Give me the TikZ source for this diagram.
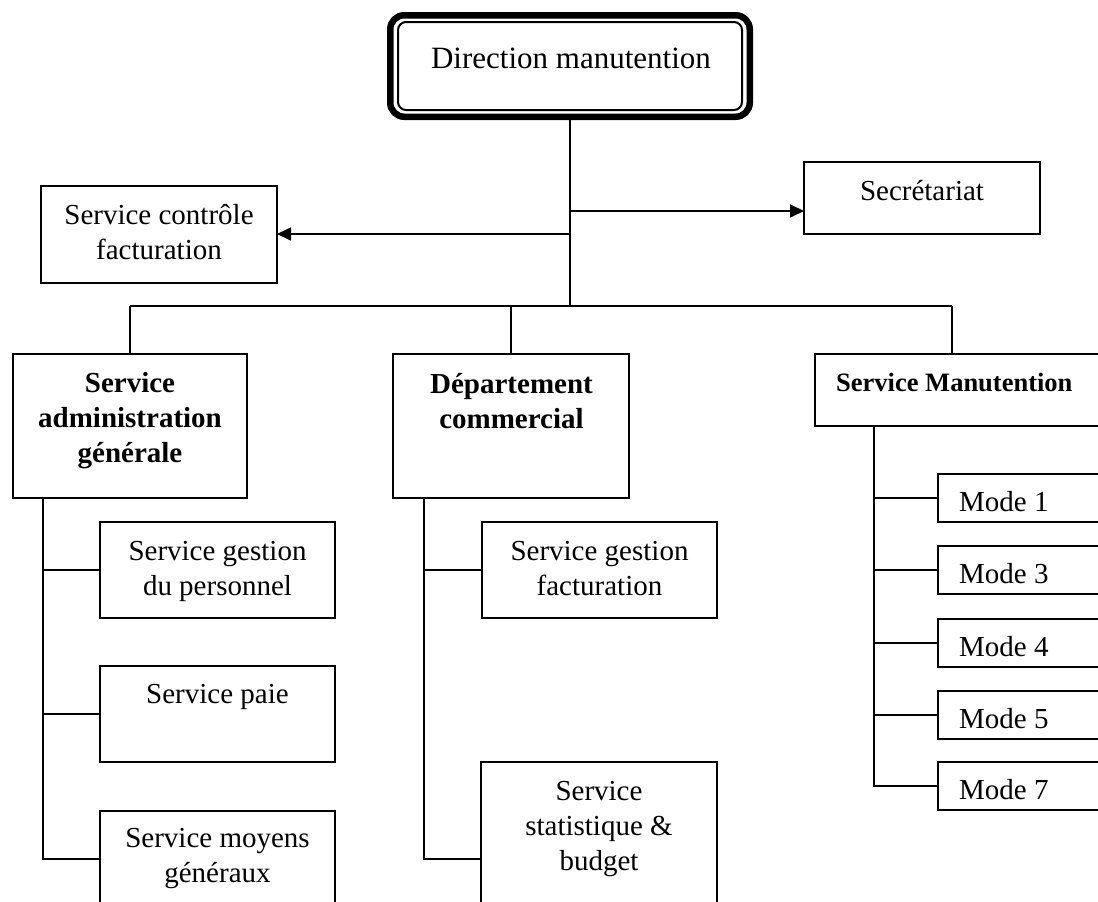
\documentclass[tikz,border=0pt]{standalone}
\usepackage{fontspec}
\setmainfont{Liberation Serif}
\usetikzlibrary{arrows.meta,calc}
\begin{document}
\begin{tikzpicture}[x=1pt,y=-1pt,
  box/.style={draw=black, line width=1.8pt, fill=white, rectangle, inner sep=0pt, outer sep=0pt, anchor=north west},
  txt/.style={font=\fontsize{29}{35}\selectfont, align=center, inner sep=0pt, anchor=base},
  btxt/.style={txt, font=\fontsize{29}{35}\selectfont\bfseries},
  link/.style={line width=1.8pt},
  arr/.style={link, -{Triangle[length=14pt,width=13pt]}},
]
\useasboundingbox (0,0) rectangle (1098,902);
\fill[white] (0,0) rectangle (1098,902);
\clip (0,0) rectangle (1098,902);

% top box (path 390.25..749.75 x 15.25..116.75)
\node[draw=black, line width=6.5pt, rounded corners=14pt, inner sep=0pt, outer sep=0pt,
      minimum width=359.5pt, minimum height=101.5pt, anchor=north west] (top) at (390.25,15.25) {};
\draw[line width=2pt, rounded corners=8pt] ($(top.north west)+(7.75,6.75)$) rectangle ($(top.south east)+(-7.75,-6.75)$);
\node[txt, font=\fontsize{31}{37}\selectfont] (ttop) at (571,68) {Direction manutention};

% boxes (base anchor = baseline of the last line)
\node[box, minimum width=236pt, minimum height=72pt] (sec) at (804,162) {};
\node[txt] (tsec) at (922,200) {Secrétariat};
\node[box, minimum width=236pt, minimum height=97pt] (scf) at (41,186) {};
\node[txt] (tscf) at (159,259) {Service contrôle\\facturation};

\node[box, minimum width=234pt, minimum height=144pt] (admin) at (13,354) {};
\node[btxt] (tadmin) at (130,462) {Service\\administration\\générale};
\node[box, minimum width=236pt, minimum height=144pt] (dept) at (393,354) {};
\node[btxt] (tdept) at (511.5,428) {Département\\commercial};
\node[box, minimum width=295pt, minimum height=72pt] (manut) at (815,354) {};
\node[btxt, font=\fontsize{26.5}{32}\selectfont\bfseries, anchor=base west] (tmanut) at (836,391) {Service Manutention};

\node[box, minimum width=235pt, minimum height=96pt] (gp) at (100,522) {};
\node[txt] (tgp) at (217.5,595) {Service gestion\\du personnel};
\node[box, minimum width=235pt, minimum height=96pt] (paie) at (100,666) {};
\node[txt] (tpaie) at (217.5,703) {Service paie};
\node[box, minimum width=235pt, minimum height=96pt] (moy) at (100,811) {};
\node[txt] (tmoy) at (217.5,882) {Service moyens\\généraux};

\node[box, minimum width=235pt, minimum height=96pt] (gf) at (482,522) {};
\node[txt] (tgf) at (599.5,595) {Service gestion\\facturation};
\node[box, minimum width=236pt, minimum height=194pt] (stat) at (481,762) {};
\node[txt] (tstat) at (599,870) {Service\\statistique \&\\budget};

\foreach \n/\y/\t in {m1/474/Mode 1, m3/546/Mode 3, m4/619/Mode 4, m5/691/Mode 5, m7/762/Mode 7}{
  \node[box, minimum width=172pt, minimum height=48pt] (\n) at (938,\y) {};
  \node[txt, anchor=base west] (t\n) at ($(\n.north west)+(21,37)$) {\t};
}

% connectors
\coordinate (j1) at (top.south |- 0,211);
\coordinate (j2) at (top.south |- 0,234);
\coordinate (bar) at (top.south |- 0,306);
\coordinate (bl) at (130,306);
\coordinate (br) at (952,306);
\coordinate (aspine) at (43,0);
\coordinate (dspine) at (424,0);
\coordinate (mspine) at (874,0);

\draw[link] (top.south) -- (bar);
\draw[arr] (j1) -- (j1 -| sec.west);
\draw[arr] (j2) -- (j2 -| scf.east);
\draw[link] (bl) -- (br);
\draw[link] (bl) -- (admin.north);
\draw[link] (dept.north |- bar) -- (dept.north);
\draw[link] (br) -- (br |- manut.north);

\draw[link] (admin.south -| aspine) |- (moy.west);
\draw[link] (gp.west -| aspine) -- (gp.west);
\draw[link] (paie.west -| aspine) -- (paie.west);

\draw[link] (dept.south -| dspine) |- (stat.west);
\draw[link] (gf.west -| dspine) -- (gf.west);

\draw[link] (manut.south -| mspine) |- (m7.west);
\foreach \n in {m1,m3,m4,m5}{
  \draw[link] (\n.west -| mspine) -- (\n.west);
}
\end{tikzpicture}
\end{document}
